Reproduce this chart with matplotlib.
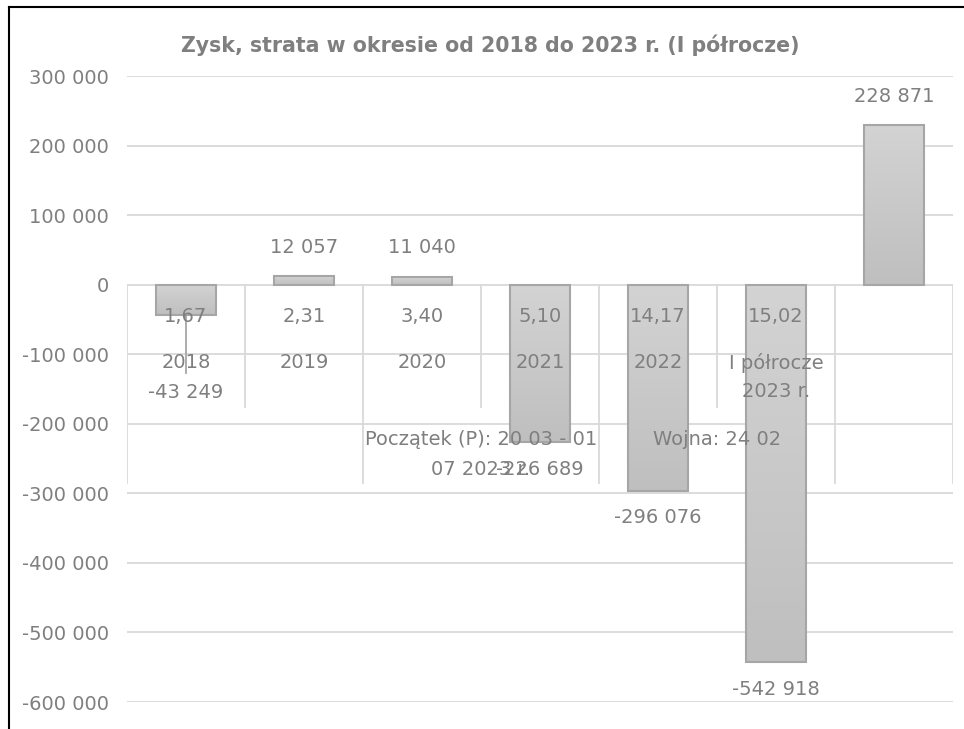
import numpy as np
import matplotlib.pyplot as plt
from matplotlib.lines import Line2D
from matplotlib.colors import LinearSegmentedColormap

values = [-43249, 12057, 11040, -226689, -296076, -542918, 228871]
level1 = ['1,67', '2,31', '3,40', '5,10', '14,17', '15,02', '']
level2 = ['2018', '2019', '2020', '2021', '2022', 'I półrocze\n2023 r.', '']
groups = ['', 'Początek (P): 20 03 - 01\n07 2023 r.', 'Wojna: 24 02', '']
group_spans = [(0, 1), (2, 3), (4, 5), (6, 6)]
yticks = [300000, 200000, 100000, 0, -100000, -200000, -300000, -400000, -500000, -600000]

title = 'Zysk, strata w okresie od 2018 do 2023 r. (I półrocze)'

txt = '#7f7f7f'
grid = '#d9d9d9'
fs = 14

plt.rcParams['font.family'] = ['DejaVu Sans']

fig = plt.figure(figsize=(9.64, 7.29), dpi=100)
ax = fig.add_axes([127 / 964, 27 / 729, 826 / 964, 626 / 729])

for t in yticks:
    ax.axhline(t, color=grid, lw=1.3, zorder=0)

ax.set_yticks(yticks)
ax.set_yticklabels([f'{t:,}'.replace(',', ' ') for t in yticks], color=txt, fontsize=fs)
ax.set_xticks([])
ax.tick_params(axis='y', length=0, pad=13)
for s in ax.spines.values():
    s.set_visible(False)

# bars with a light vertical gradient
cmap = LinearSegmentedColormap.from_list('g', ['#d3d3d3', '#bfbfbf'])
grad = np.linspace(0, 1, 100).reshape(-1, 1)
w = 0.51
for i, v in enumerate(values):
    top, bot = max(v, 0), min(v, 0)
    ax.imshow(grad, cmap=cmap, aspect='auto', extent=(i - w / 2, i + w / 2, bot, top),
              origin='upper', zorder=2)
    ax.bar(i, v, width=w, facecolor='none', edgecolor='#a6a6a6', lw=1.5, zorder=3)
ax.set_xlim(-0.5, 6.5)
ax.set_ylim(-600000, 300000)


def yval(px):
    # pixel row in the picture -> value on the axis
    return (285 - px) / 0.0006956


# multi-level category axis
short_end, long_end = yval(407), yval(483)
for k in range(8):
    xb = k - 0.5
    end = long_end if k in (0, 2, 4, 6, 7) else short_end
    ax.plot([xb, xb], [0, end], color=grid, lw=1.3, zorder=1)

for i in range(7):
    ax.text(i, yval(317), level1[i], ha='center', va='center', color=txt, fontsize=fs, zorder=5)
    for j, line in enumerate(level2[i].split('\n')):
        ax.text(i, yval(363 + 29 * j), line, ha='center', va='center', color=txt,
                fontsize=fs, zorder=5)
for g, (a, b) in zip(groups, group_spans):
    for j, line in enumerate(g.split('\n')):
        ax.text((a + b) / 2, yval(440 + 30 * j), line, ha='center', va='center', color=txt,
                fontsize=fs, zorder=5)

# data labels
for i, v in enumerate(values):
    if i == 0:
        continue
    off = 29 if v > 0 else -27
    ax.annotate(f'{v:,}'.replace(',', ' '), (i, v), xytext=(0, off),
                textcoords='offset pixels', ha='center', va='center', color=txt,
                fontsize=fs, zorder=6)
ax.plot([0, 0], [values[0], yval(373)], color='#a6a6a6', lw=1.3, zorder=4)
ax.text(0, yval(393), f'{values[0]:,}'.replace(',', ' '), ha='center', va='center',
        color=txt, fontsize=fs, zorder=6)

fig.text(490 / 964, 1 - 45 / 729, title, ha='center', va='center', color=txt,
         fontsize=14.8, fontweight='bold')

# chart border (left and top visible)
fig.add_artist(Line2D([8.5 / 964, 8.5 / 964], [0, 1 - 7 / 729], color='black', lw=1.5,
                      transform=fig.transFigure))
fig.add_artist(Line2D([8.5 / 964, 1], [1 - 7 / 729, 1 - 7 / 729], color='black', lw=1.5,
                      transform=fig.transFigure))

plt.savefig('out.png', dpi=100)
